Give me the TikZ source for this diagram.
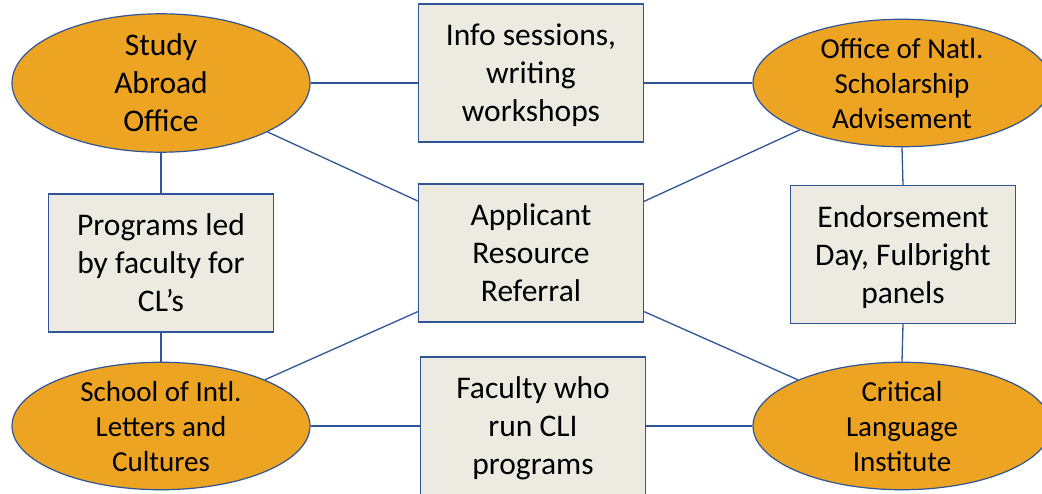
\documentclass[tikz,border=0pt]{standalone}
\usepackage{fontspec}
\setmainfont{Carlito}
\usetikzlibrary{shapes.geometric}
\definecolor{orgfill}{RGB}{237,164,35}
\definecolor{edgeblue}{RGB}{47,85,151}
\definecolor{boxfill}{RGB}{236,234,225}
\tikzset{
  office/.style={ellipse, draw=edgeblue, fill=orgfill, line width=1.2pt,
    minimum width=298pt, minimum height=118pt, inner sep=0pt, align=center,
    text depth=0pt, font=\fontsize{29}{35}\selectfont},
  bigoffice/.style={office, font=\fontsize{31.5}{38}\selectfont},
  infobox/.style={rectangle, draw=edgeblue, fill=boxfill, line width=1.2pt,
    minimum width=225pt, minimum height=138pt, inner sep=0pt, align=center,
    text depth=0pt, font=\fontsize{31.5}{38}\selectfont},
  link/.style={draw=edgeblue, line width=1.3pt}
}
\begin{document}
\begin{tikzpicture}[x=1pt,y=-1pt]
\useasboundingbox (0,0) rectangle (1042,494);
\clip (0,0) rectangle (1042,494);
\node[bigoffice] (sao) at (161,83) {Study\\Abroad\\Office};
\node[office] (onsa) at (902,83) {Office of Natl.\\Scholarship\\Advisement};
\node[office] (silc) at (161,426) {School of Intl.\\Letters and\\Cultures};
\node[office] (cli) at (902,426) {Critical\\Language\\Institute};
\node[infobox] (info) at (531,73) {Info sessions,\\writing\\workshops};
\node[infobox] (arr) at (531,253) {Applicant\\Resource\\Referral};
\node[infobox] (prog) at (161,263) {Programs led\\by faculty for\\CL’s};
\node[infobox] (endo) at (903,254.5) {Endorsement\\Day, Fulbright\\panels};
\node[infobox] (fac) at (533,426) {Faculty who\\run CLI\\programs};
\coordinate (arrlow) at ([yshift=11pt]arr.south west);
\coordinate (arrlowe) at ([yshift=11pt]arr.south east);
\draw[link] (sao.east) -- (sao.east -| info.west);
\draw[link] (onsa.west) -- (onsa.west -| info.east);
\draw[link] (sao) -- (arr);
\draw[link] (onsa) -- (arr);
\draw[link] (silc) -- (arrlow);
\draw[link] (cli) -- (arrlowe);
\draw[link] (sao.south) -- (prog.north);
\draw[link] (prog.south) -- (silc.north);
\draw[link] (onsa.south) -- (endo.north);
\draw[link] (endo.south) -- (cli.north);
\draw[link] (silc.east) -- (fac.west);
\draw[link] (cli.west) -- (fac.east);
\end{tikzpicture}
\end{document}
